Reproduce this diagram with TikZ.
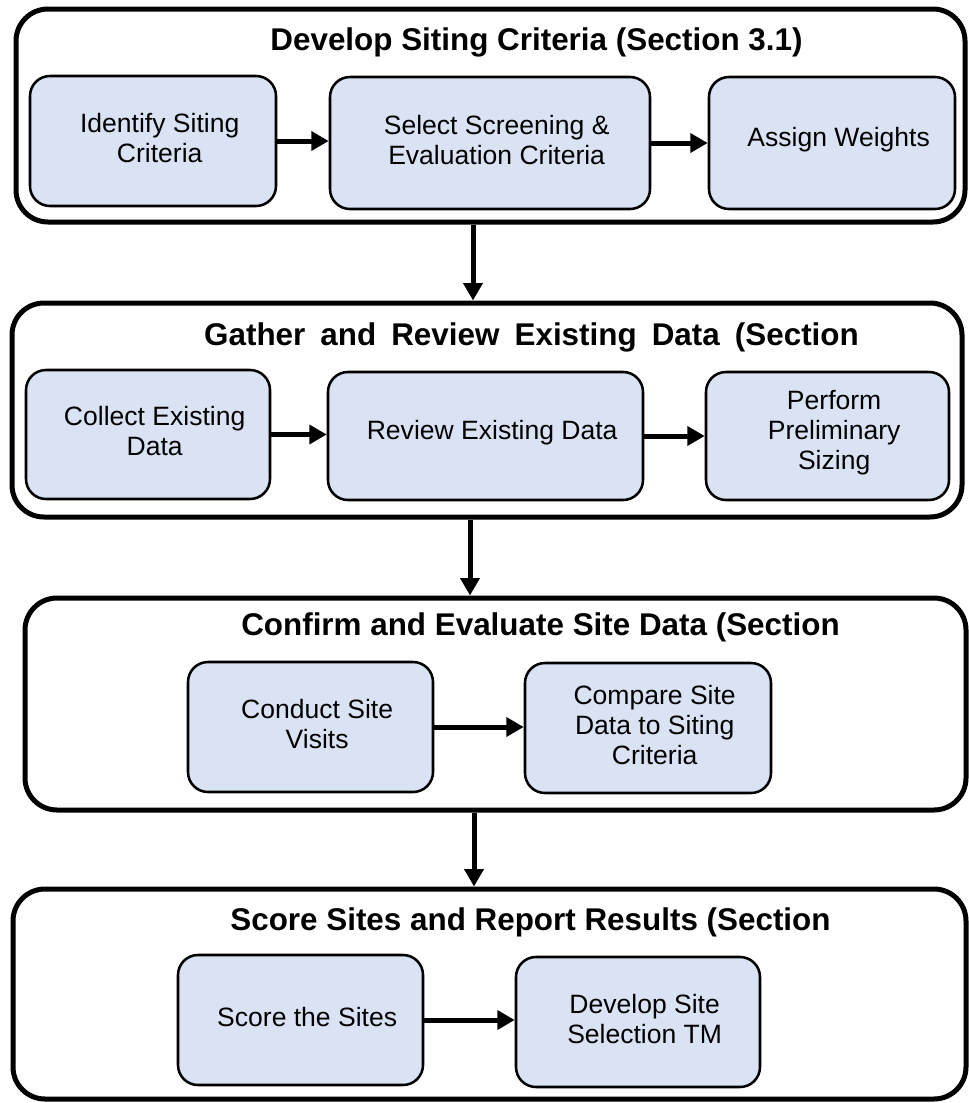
\documentclass[tikz,border=0pt]{standalone}
\usepackage{fontspec}
\setmainfont{Liberation Sans}
\usetikzlibrary{arrows.meta,fit}
\definecolor{boxfill}{RGB}{218,227,243}
\begin{document}
\begin{tikzpicture}[x=0.75pt,y=-0.75pt,
  stage/.style={draw, line width=3.75pt, rounded corners=24pt, inner sep=0pt},
  task/.style={draw, fill=boxfill, line width=1.9pt, rounded corners=15pt, inner sep=0pt},
  tasktext/.style={align=center, font=\fontsize{19.9pt}{22.5pt}\selectfont,
                   xshift=5pt, yshift=2.25pt, inner sep=0pt},
  title/.style={font=\bfseries\fontsize{23.55pt}{26pt}\selectfont, inner sep=0pt},
  arr/.style={line width=3.75pt, -{Triangle[length=13pt,width=14pt]}}
]
\useasboundingbox (0,0) rectangle (969,1103);

% stage frames
\node[stage, fit={(16,9) (965,222)}]   (g1) {};
\node[stage, fit={(12,303) (962,517)}] (g2) {};
\node[stage, fit={(25,598) (966,810)}] (g3) {};
\node[stage, fit={(13,889) (966,1099)}] (g4) {};

% stage titles
\node[title] (t1) at (536.5,42) {Develop Siting Criteria (Section 3.1)};
\node[title] (t2) at (531.5,337) {\spaceskip=11.3pt Gather and Review Existing Data (Section};
\node[title] (t3) at (540.5,627) {Confirm and Evaluate Site Data (Section};
\node[title] (t4) at (530.5,922) {Score Sites and Report Results (Section};

% stage 1 tasks
\node[task, fit={(30,76) (276,206)},
      label={[tasktext]center:{Identify Siting\\Criteria}}] (a) {};
\node[task, fit={(330,77) (650,209)},
      label={[tasktext]center:{Select Screening \&\\Evaluation Criteria}}] (b) {};
\node[task, fit={(709,77) (955,209)},
      label={[tasktext]center:{Assign Weights}}] (c) {};

% stage 2 tasks
\node[task, fit={(26,370) (270,499)},
      label={[tasktext]center:{Collect Existing\\Data}}] (d) {};
\node[task, fit={(328,372) (643,500)},
      label={[tasktext]center:{Review Existing Data}}] (e) {};
\node[task, fit={(706,372) (949,500)},
      label={[tasktext]center:{Perform\\Preliminary\\Sizing}}] (f) {};

% stage 3 tasks
\node[task, fit={(188,662) (433,792)},
      label={[tasktext]center:{Conduct Site\\Visits}}] (g) {};
\node[task, fit={(525,663) (771,793)},
      label={[tasktext]center:{Compare Site\\Data to Siting\\Criteria}}] (h) {};

% stage 4 tasks
\node[task, fit={(178,955) (423,1085)},
      label={[tasktext]center:{Score the Sites}}] (i) {};
\node[task, fit={(516,957) (760,1087)},
      label={[tasktext]center:{Develop Site\\Selection TM}}] (j) {};

% task-to-task arrows
\draw[arr] (a.east) -- (a.east -| b.west);
\draw[arr] (b.east) -- (b.east -| c.west);
\draw[arr] (d.east) -- (d.east -| e.west);
\draw[arr] (e.east) -- (e.east -| f.west);
\draw[arr] (g.east) -- (g.east -| h.west);
\draw[arr] (i.east) -- (i.east -| j.west);

% stage-to-stage arrows
\coordinate (v1) at (473,0);
\coordinate (v2) at (470,0);
\coordinate (v3) at (474,0);
\draw[arr] (g1.south -| v1) -- (g2.north -| v1);
\draw[arr] (g2.south -| v2) -- (g3.north -| v2);
\draw[arr] (g3.south -| v3) -- (g4.north -| v3);
\end{tikzpicture}
\end{document}
